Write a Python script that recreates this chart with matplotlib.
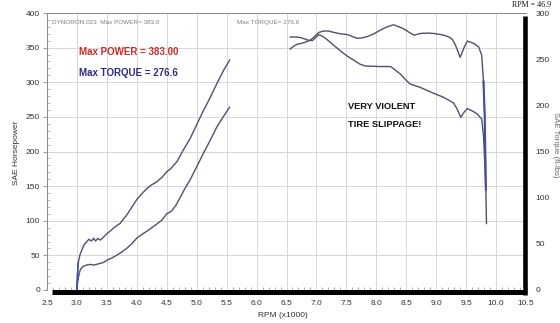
import matplotlib
matplotlib.use("Agg")
import matplotlib.pyplot as plt
from matplotlib.ticker import MultipleLocator
from matplotlib.lines import Line2D

plt.rcParams['font.family'] = ['Liberation Sans', 'DejaVu Sans']

# first pull (3000-5550 rpm)
rpm_lo_hp = [3.00, 3.01, 3.03, 3.06, 3.10, 3.16, 3.22, 3.27, 3.33, 3.39, 3.45, 3.50,
             3.58, 3.67, 3.75, 3.83, 3.92, 4.00, 4.08, 4.17, 4.25, 4.33, 4.42, 4.50,
             4.58, 4.65, 4.72, 4.80, 4.89, 5.00, 5.11, 5.23, 5.34, 5.45, 5.55]
hp_lo = [0, 12, 22, 30, 34, 36, 37, 36, 37, 38.5, 40, 43,
         46, 50.5, 55, 60, 67, 75, 80, 85, 90, 95, 101, 110,
         114, 122, 133, 146, 159, 178, 197, 217, 236, 251, 264]

rpm_lo_tq = [3.00, 3.01, 3.02, 3.05, 3.08, 3.12, 3.16, 3.20, 3.24, 3.28, 3.31, 3.35,
             3.39, 3.44, 3.50, 3.56, 3.61, 3.67, 3.72, 3.78, 3.83, 3.90, 4.00, 4.08,
             4.17, 4.25, 4.33, 4.42, 4.50, 4.56, 4.67, 4.78, 4.89, 5.00, 5.11, 5.23,
             5.34, 5.45, 5.55]
tq_lo = [0, 18, 29, 38, 43, 49, 52, 55, 53, 56, 53, 56,
         54, 57, 61, 64, 67, 70, 72, 77, 81, 88, 98, 104,
         110, 114, 117, 122, 128, 131, 139, 152, 164, 179, 194, 209,
         224, 238, 249]

# second pull (6560-9840 rpm)
rpm_hi_hp = [6.56, 6.62, 6.68, 6.79, 6.90, 6.97, 7.04, 7.12, 7.20, 7.29, 7.40, 7.51,
             7.60, 7.68, 7.76, 7.85, 7.96, 8.07, 8.18, 8.29, 8.38, 8.46, 8.55, 8.63,
             8.74, 8.85, 8.96, 9.13, 9.22, 9.27, 9.32, 9.37, 9.40, 9.43, 9.46, 9.52,
             9.63, 9.71, 9.76, 9.79, 9.81, 9.83]
hp_hi = [348, 352, 355, 357, 361, 366, 372, 374, 374, 372, 370, 369,
         366, 363.5, 364, 366, 370, 375.5, 380, 383, 380, 377, 372, 368,
         370.5, 371, 370.5, 368, 365, 362, 354, 343, 336, 342, 349, 359.5,
         356, 351, 339, 301, 253, 145]

rpm_hi_tq = [6.56, 6.65, 6.73, 6.80, 6.86, 6.93, 6.98, 7.04, 7.12, 7.20, 7.29, 7.40,
             7.51, 7.62, 7.73, 7.82, 7.90, 8.05, 8.24, 8.32, 8.40, 8.50, 8.57, 8.73,
             8.96, 9.13, 9.29, 9.35, 9.41, 9.46, 9.52, 9.60, 9.69, 9.76, 9.79, 9.81,
             9.83, 9.84]
tq_hi = [274, 274, 273.5, 272, 270.5, 270, 273, 276.6, 274, 270, 265, 259,
         253.5, 249, 244.5, 242.5, 242.5, 242, 242, 238, 234, 227, 223, 219.5,
         213, 208.5, 202.5, 196, 187, 192, 196.5, 194, 190.5, 185, 167, 140,
         105, 72]

rpm_ticks = [2.5, 3.0, 3.5, 4.0, 4.5, 5.0, 5.5, 6.0, 6.5, 7.0, 7.5, 8.0, 8.5, 9.0, 9.5, 10.0, 10.5]

line_col = '#4e526c'
blue_col = '#3d4cb5'

fig = plt.figure(figsize=(5.6, 3.23), dpi=100)
ax = fig.add_axes([47/560, 33/323, 479/560, 277/323])
ax2 = ax.twinx()

ax.set_xlim(2.5, 10.5)
ax.set_ylim(0, 400)
ax2.set_ylim(0, 300)

# horsepower on the left scale, torque on the right
ax.plot(rpm_lo_hp, hp_lo, color=line_col, lw=1.0)
ax.plot(rpm_hi_hp, hp_hi, color=line_col, lw=1.0)
ax2.plot(rpm_lo_tq, tq_lo, color=line_col, lw=1.0)
ax2.plot(rpm_hi_tq, tq_hi, color=line_col, lw=1.0)
# bluish ink at the steep ends
ax.plot(rpm_lo_hp[:3], hp_lo[:3], color=blue_col, lw=1.0)
ax2.plot(rpm_lo_tq[:3], tq_lo[:3], color=blue_col, lw=1.0)
ax.plot(rpm_hi_hp[-3:], hp_hi[-3:], color=blue_col, lw=1.5)

ax.set_xticks(rpm_ticks)
ax.set_xticklabels(['%.1f' % r for r in rpm_ticks])
ax.set_yticks(range(0, 401, 50))
ax2.set_yticks(range(0, 301, 50))
ax.xaxis.set_minor_locator(MultipleLocator(0.1))
ax.yaxis.set_minor_locator(MultipleLocator(10))
ax2.yaxis.set_minor_locator(MultipleLocator(10))

ax.grid(True, which='major', color='#d4d4d4', lw=0.65)
ax.set_axisbelow(True)

ax.tick_params(axis='x', which='major', length=0, pad=7, labelsize=6, labelcolor='#333333')
ax.tick_params(axis='x', which='minor', direction='in', length=2, color='#999999')
ax.tick_params(axis='y', which='major', length=3, width=0.6, color='#888888', pad=2,
               labelsize=6, labelcolor='#333333')
ax.tick_params(axis='y', which='minor', direction='in', length=2, color='#aaaaaa')
ax2.tick_params(axis='y', which='major', length=0, pad=7, labelsize=6, labelcolor='#333333')
ax2.tick_params(axis='y', which='minor', direction='in', length=2, pad=7, color='#999999')

for a in (ax, ax2):
    a.spines['right'].set_visible(False)
    a.spines['bottom'].set_visible(False)
    a.spines['left'].set_color('#8a8a8a')
    a.spines['left'].set_linewidth(0.7)
    a.spines['top'].set_color('#8a8a8a')
    a.spines['top'].set_linewidth(0.7)

# heavy black frame along the bottom and right
ax2.add_line(Line2D([0.0104, 1.0], [-0.009, -0.009], transform=ax.transAxes, color='black',
                    lw=3.6, solid_capstyle='butt', clip_on=False))
ax2.add_line(Line2D([0.998, 0.998], [-0.018, 0.989], transform=ax.transAxes, color='black',
                    lw=3.3, solid_capstyle='butt', clip_on=False))

ax.set_xlabel('RPM (x1000)', fontsize=6, color='#333333')
ax.xaxis.set_label_coords(0.493, -0.079)
ax.set_ylabel('SAE Horsepower', fontsize=6, color='#333333')
ax.yaxis.set_label_coords(-0.056, 0.495)
ax2.set_ylabel('SAE Torque (ft-lbs)', fontsize=5.6, color='#666666', rotation=270, va='center')
ax2.yaxis.set_label_coords(1.062, 0.523)

ax.text(2.58, 386, 'DYNORON.023  Max POWER= 383.0', fontsize=4.6, color='#808080', va='center')
ax.text(5.68, 386, 'Max TORQUE= 276.6', fontsize=4.6, color='#808080', va='center')
ax.text(3.035, 343.5, 'Max POWER = 383.00', fontsize=7, fontweight='bold', color='#cc2a2a',
        va='center')
ax.text(3.035, 313.5, 'Max TORQUE = 276.6', fontsize=7, fontweight='bold', color='#2c2c82',
        va='center')
ax.text(7.53, 264.5, 'VERY VIOLENT', fontsize=6.7, fontweight='bold', color='#111111', va='center')
ax.text(7.52, 238.5, 'TIRE SLIPPAGE!', fontsize=6.7, fontweight='bold', color='#111111',
        va='center')
fig.text(512/560, 1 - 5/323, 'RPM = 46.9', fontsize=5.8, family='Liberation Serif',
         color='#111111', va='center')

fig.savefig('out.png', dpi=100)
